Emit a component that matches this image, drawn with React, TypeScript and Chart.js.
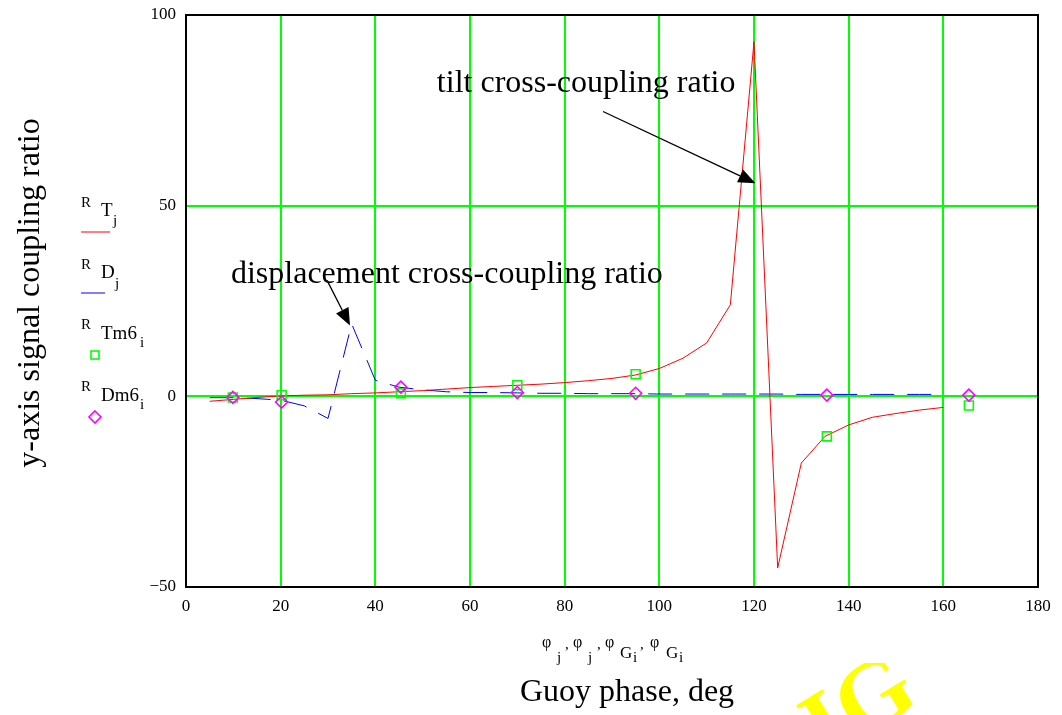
import React, { useEffect, useRef } from "react";
import { Chart, registerables } from "chart.js";
Chart.register(...registerables);

// Model Guoy phase (deg) and model coupling ratios
const modelPhase = [5, 10, 15, 20, 25, 30, 35, 40, 45, 50, 55, 60, 65, 70, 75, 80, 85, 90, 95, 100, 105, 110, 115, 120, 125, 130, 135, 140, 145, 150, 155, 160];
const tiltRatio = [-1.3, -0.8, -0.3, 0.1, 0.3, 0.4, 0.7, 0.9, 1.2, 1.5, 1.9, 2.3, 2.6, 2.9, 3.2, 3.6, 4.1, 4.7, 5.6, 7.3, 10, 14, 24, 93, -45, -17.5, -10.5, -7.5, -5.5, -4.5, -3.6, -2.9];
const dispRatio = [-0.35, -0.35, -0.6, -1.0, -2.5, -5.8, 19, 4.2, 2.4, 1.7, 1.2, 1.0, 1.0, 0.9, 0.8, 0.8, 0.7, 0.7, 0.7, 0.6, 0.6, 0.6, 0.6, 0.6, 0.6, 0.5, 0.5, 0.5, 0.5, 0.5, 0.5, 0.5];

// Measured Guoy phase (deg) and measured ratios
const measPhase = [9.9, 20.2, 45.4, 70, 95, 135.4, 165.4];
const tiltMeas = [-0.3, 0.3, 0.8, 2.9, 5.8, -10.5, -2.4];
const dispMeas = [-0.3, -1.5, 2.4, 1.0, 0.8, 0.3, 0.3];

const xTicks = [0, 20, 40, 60, 80, 100, 120, 140, 160, 180];
const yTicks = [-50, 0, 50, 100];

const SERIF = '"Liberation Serif", "Times New Roman", serif';

// annotations in data coordinates
const tiltNote = { text: "tilt cross-coupling ratio", x: 53.0, y: 79.7, from: [88.1, 74.7], to: [120.3, 55.9] };
const dispNote = { text: "displacement cross-coupling ratio", x: 9.5, y: 29.6, from: [29.8, 30.4], to: [34.65, 18.6] };

function arrow(ctx: CanvasRenderingContext2D, x1: number, y1: number, x2: number, y2: number) {
  const ang = Math.atan2(y2 - y1, x2 - x1);
  const L = 17, W = 7;
  const bx = x2 - L * Math.cos(ang), by = y2 - L * Math.sin(ang);
  ctx.strokeStyle = "#000";
  ctx.lineWidth = 1.3;
  ctx.beginPath();
  ctx.moveTo(x1, y1);
  ctx.lineTo(bx, by);
  ctx.stroke();
  ctx.fillStyle = "#000";
  ctx.beginPath();
  ctx.moveTo(x2, y2);
  ctx.lineTo(bx + W * Math.sin(ang), by - W * Math.cos(ang));
  ctx.lineTo(bx - W * Math.sin(ang), by + W * Math.cos(ang));
  ctx.closePath();
  ctx.fill();
}

function txt(ctx: CanvasRenderingContext2D, s: string, x: number, y: number, size: number) {
  ctx.font = `${size}px ${SERIF}`;
  ctx.fillText(s, x, y);
}

const decor = {
  id: "decor",
  afterDraw(chart: any) {
    const ctx: CanvasRenderingContext2D = chart.ctx;
    const { left, right, top, bottom } = chart.chartArea;
    const xs = chart.scales.x, ys = chart.scales.y;
    ctx.save();
    // frame
    ctx.strokeStyle = "#000";
    ctx.lineWidth = 2;
    ctx.strokeRect(left, top, right - left, bottom - top);

    ctx.fillStyle = "#000";
    ctx.textAlign = "left";
    ctx.textBaseline = "alphabetic";
    for (const n of [tiltNote, dispNote]) {
      txt(ctx, n.text, xs.getPixelForValue(n.x), ys.getPixelForValue(n.y), 32);
      arrow(ctx, xs.getPixelForValue(n.from[0]), ys.getPixelForValue(n.from[1]), xs.getPixelForValue(n.to[0]), ys.getPixelForValue(n.to[1]));
    }

    // legend
    ctx.fillStyle = "#000";
    txt(ctx, "R", 81, 207, 15); txt(ctx, "T", 101, 216, 19); txt(ctx, "j", 113, 225, 15);
    txt(ctx, "R", 81, 269, 15); txt(ctx, "D", 101, 278, 19); txt(ctx, "j", 115, 288, 15);
    txt(ctx, "R", 81, 329, 15); txt(ctx, "Tm6", 101, 339, 19); txt(ctx, "i", 140, 347, 15);
    txt(ctx, "R", 81, 391, 15); txt(ctx, "Dm6", 101, 401, 19); txt(ctx, "i", 140, 409, 15);
    ctx.lineWidth = 1;
    ctx.strokeStyle = "#ff0000";
    ctx.beginPath(); ctx.moveTo(81, 232); ctx.lineTo(110, 232); ctx.stroke();
    ctx.strokeStyle = "#0000ff";
    ctx.beginPath(); ctx.moveTo(81, 293); ctx.lineTo(105, 293); ctx.stroke();
    ctx.strokeStyle = "#00ff00";
    ctx.lineWidth = 1.6;
    ctx.strokeRect(91, 351, 8, 8);
    ctx.strokeStyle = "#ff00ff";
    ctx.beginPath(); ctx.moveTo(95, 411); ctx.lineTo(101, 417); ctx.lineTo(95, 423); ctx.lineTo(89, 417); ctx.closePath(); ctx.stroke();

    // y title
    ctx.fillStyle = "#000";
    ctx.save();
    ctx.translate(31, 293);
    ctx.rotate(-Math.PI / 2);
    ctx.textAlign = "center";
    ctx.textBaseline = "middle";
    ctx.font = `32px ${SERIF}`;
    ctx.fillText("y-axis signal coupling ratio", 0, 0);
    ctx.restore();

    // x variable labels
    ctx.textAlign = "left";
    const phiY = 647, subY = 662;
    txt(ctx, "\u03c6", 542, phiY, 16); txt(ctx, "j", 557, subY, 15); txt(ctx, ",", 565, 649, 15);
    txt(ctx, "\u03c6", 573, phiY, 16); txt(ctx, "j", 588, subY, 15); txt(ctx, ",", 597, 649, 15);
    txt(ctx, "\u03c6", 605, phiY, 16); txt(ctx, "G", 620, 658, 17); txt(ctx, "i", 633, subY, 15); txt(ctx, ",", 640, 649, 15);
    txt(ctx, "\u03c6", 650, phiY, 16); txt(ctx, "G", 666, 658, 17); txt(ctx, "i", 679, subY, 15);

    // x title
    ctx.textAlign = "center";
    txt(ctx, "Guoy phase, deg", 627, 701, 32);

    // yellow watermark fragment
    ctx.save();
    ctx.beginPath();
    ctx.rect(790, 663, 272, 52);
    ctx.clip();
    ctx.fillStyle = "#ffff00";
    ctx.translate(878, 700);
    ctx.rotate(-0.55);
    ctx.font = `bold 96px ${SERIF}`;
    ctx.textAlign = "center";
    ctx.textBaseline = "middle";
    ctx.fillText("IG", -20, 0);
    ctx.restore();

    ctx.restore();
  },
};

export default function App() {
  const ref = useRef<HTMLCanvasElement>(null);
  useEffect(() => {
    const canvas = ref.current!;
    const chart = new Chart(canvas, {
      type: "line",
      data: {
        datasets: [
          {
            label: "R_Dm6",
            data: measPhase.map((x, i) => ({ x, y: dispMeas[i] })),
            showLine: false,
            pointStyle: "rectRot",
            pointRadius: 6,
            pointBorderColor: "#ff00ff",
            pointBackgroundColor: "rgba(0,0,0,0)",
            pointBorderWidth: 1.6,
            order: 0,
          },
          {
            label: "R_Tm6",
            data: measPhase.map((x, i) => ({ x, y: tiltMeas[i] })),
            showLine: false,
            pointStyle: "rect",
            pointRadius: 6.3,
            pointBorderColor: "#00ff00",
            pointBackgroundColor: "rgba(0,0,0,0)",
            pointBorderWidth: 1.6,
            order: 1,
          },
          {
            label: "R_T",
            data: modelPhase.map((x, i) => ({ x, y: tiltRatio[i] })),
            borderColor: "#ff0000",
            borderWidth: 1,
            pointRadius: 0,
            tension: 0,
            order: 2,
          },
          {
            label: "R_D",
            data: modelPhase.map((x, i) => ({ x, y: dispRatio[i] })),
            borderColor: "#0000ff",
            borderWidth: 1,
            borderDash: [24, 13],
            pointRadius: 0,
            tension: 0,
            order: 3,
          },
        ],
      },
      options: {
        animation: false,
        responsive: false,
        devicePixelRatio: 1,
        layout: { padding: { left: 0, right: 24, top: 15, bottom: 0 } },
        plugins: { legend: { display: false }, tooltip: { enabled: false } },
        scales: {
          x: {
            type: "linear",
            min: 0,
            max: 180,
            afterBuildTicks: (s: any) => { s.ticks = xTicks.map((v) => ({ value: v })); },
            afterFit: (s: any) => { s.height = 128; s.paddingLeft = 0; s.paddingRight = 0; },
            grid: { color: "#00ff00", lineWidth: 2, drawTicks: false },
            border: { color: "#000", width: 2 },
            ticks: { color: "#000", font: { family: SERIF, size: 17 }, padding: 9, maxRotation: 0, autoSkip: false },
          },
          y: {
            type: "linear",
            min: -50,
            max: 100,
            afterBuildTicks: (s: any) => { s.ticks = yTicks.map((v) => ({ value: v })); },
            afterFit: (s: any) => { s.width = 186; s.paddingTop = 0; s.paddingBottom = 0; },
            grid: { color: "#00ff00", lineWidth: 2, drawTicks: false },
            border: { color: "#000", width: 2 },
            ticks: {
              color: "#000",
              font: { family: SERIF, size: 17 },
              padding: 10,
              callback: (v: any) => (v < 0 ? "\u2212" + Math.abs(v) : String(v)),
            },
          },
        },
      },
      plugins: [decor],
    });
    return () => chart.destroy();
  }, []);
  return (
    <div style={{ position: "absolute", left: 0, top: 0, width: 1062, height: 715, background: "#fff" }}>
      <canvas ref={ref} width={1062} height={715} style={{ display: "block", width: 1062, height: 715 }} />
    </div>
  );
}
